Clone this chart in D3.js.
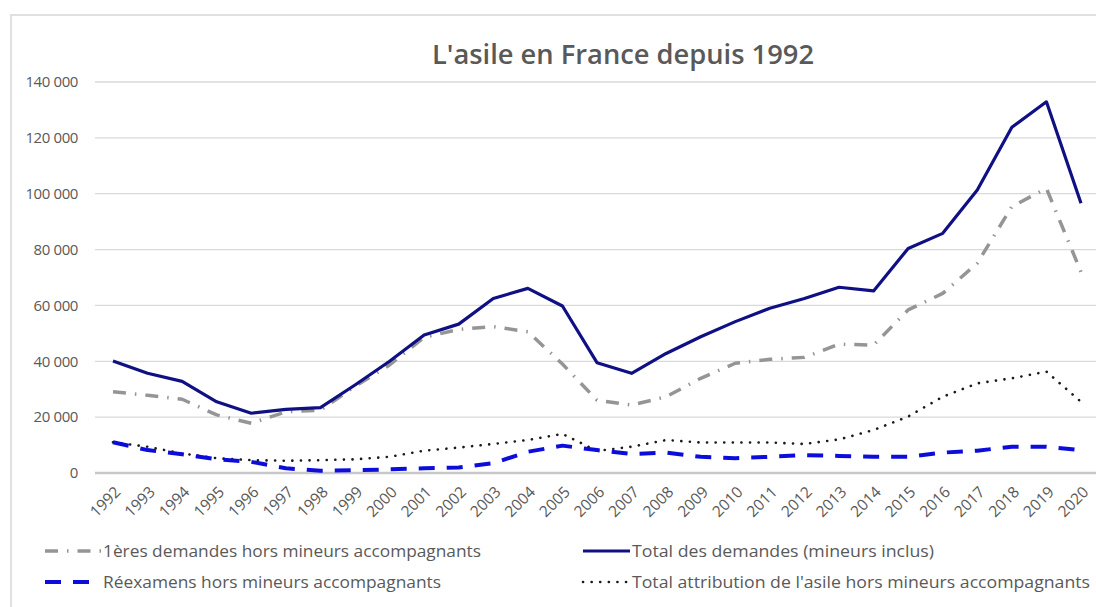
<!DOCTYPE html>
<html>
<head>
<meta charset="utf-8">
<script src="https://cdn.jsdelivr.net/npm/d3@7"></script>
<style>
  body { margin: 0; background: #fff; }
  text { font-family: "Open Sans", sans-serif; fill: #595959; }
</style>
</head>
<body>
<div id="chart"></div>
<script>
// data
var years = d3.range(1992, 2021).map(String);
var premieres = [29100, 27800, 26400, 20800, 17800, 21900, 22500, 31000, 38700, 48600, 51400, 52400, 50600, 39000,
    26100, 24300, 27300, 33900, 39300, 40700, 41400, 46100, 45800, 58400, 64300, 75100, 95400, 101900, 72000];
var totalDemandes = [40100, 35700, 32800, 25500, 21400, 22800, 23400, 31500, 40000, 49400, 53300, 62500, 66100, 59800,
    39500, 35700, 42800, 48800, 54200, 59000, 62500, 66500, 65200, 80400, 85800, 101300, 123800, 132900, 96600];
var reexamens = [11000, 8200, 6700, 4900, 4000, 1700, 800, 1000, 1300, 1700, 2000, 3500, 7600, 9800,
    8200, 6800, 7300, 5800, 5300, 5800, 6400, 6100, 5800, 5800, 7300, 8000, 9400, 9400, 8200];
var attribution = [11000, 9400, 7000, 5300, 4600, 4400, 4600, 4900, 5800, 8000, 9100, 10400, 11800, 14000,
    7900, 9400, 11800, 10900, 10900, 10900, 10400, 12000, 15400, 20200, 27300, 32100, 33900, 36300, 25500];
var yTicks = [0, 20000, 40000, 60000, 80000, 100000, 120000, 140000];

var svgWidth = 1096;
var svgHeight = 607;

var svg = d3.select("#chart").append("svg")
    .attr("width", svgWidth)
    .attr("height", svgHeight);

// chart border (light gray, open on right and bottom)
svg.append("path")
    .attr("d", "M11,607 V15 H1096")
    .attr("fill", "none")
    .attr("stroke", "#e0e0e0")
    .attr("stroke-width", 2);

// title
svg.append("text")
    .attr("x", 623)
    .attr("y", 64)
    .attr("text-anchor", "middle")
    .attr("font-size", "27px")
    .attr("font-weight", "600")
    .attr("textLength", 382)
    .attr("lengthAdjust", "spacingAndGlyphs")
    .text("L'asile en France depuis 1992");

// scales
var x = d3.scalePoint()
    .domain(years)
    .range([113, 1081]);

var y = d3.scaleLinear()
    .domain([0, 140000])
    .range([473, 82]);

// gridlines
svg.append("g")
    .selectAll("line")
    .data(yTicks.slice(1))
    .enter()
    .append("line")
    .attr("x1", 95)
    .attr("x2", 1096)
    .attr("y1", d => y(d))
    .attr("y2", d => y(d))
    .attr("stroke", "#d9d9d9")
    .attr("stroke-width", 1.3);

// y axis labels
var fmt = d => d3.format(",")(d).replace(/,/g, " ");
var yAxis = d3.axisLeft(y)
    .tickValues(yTicks)
    .tickSize(0)
    .tickPadding(0)
    .tickFormat(fmt);

var yG = svg.append("g")
    .attr("transform", "translate(78,0)")
    .call(yAxis);
yG.select(".domain").remove();
yG.selectAll("text")
    .attr("font-family", "'DejaVu Sans', sans-serif")
    .attr("font-size", "15px")
    .attr("letter-spacing", "-0.4px")
    .attr("fill", "#595959");

// x axis line
svg.append("line")
    .attr("x1", 95)
    .attr("x2", 1096)
    .attr("y1", y(0))
    .attr("y2", y(0))
    .attr("stroke", "#c8c8c8")
    .attr("stroke-width", 2.5);

// x axis labels
var xAxis = d3.axisBottom(x).tickSize(0).tickPadding(0);
var xG = svg.append("g")
    .attr("transform", `translate(0, ${y(0)})`)
    .call(xAxis);
xG.select(".domain").remove();
xG.selectAll("text")
    .attr("font-size", "15.5px")
    .attr("fill", "#595959")
    .attr("text-anchor", "end")
    .attr("dy", "0")
    .attr("transform", "translate(8,20) rotate(-45)");

// series
var series = [
    { name: "1ères demandes hors mineurs accompagnants", values: premieres, color: "#959595", width: 3.5, dash: "13,9,1.5,9", cap: "butt", textLen: 378 },
    { name: "Total des demandes (mineurs inclus)", values: totalDemandes, color: "#101085", width: 3.2, dash: null, cap: "butt", textLen: 302 },
    { name: "Réexamens hors mineurs accompagnants", values: reexamens, color: "#0d0ddb", width: 4, dash: "16,12", cap: "butt", textLen: 338 },
    { name: "Total attribution de l'asile hors mineurs accompagnants", values: attribution, color: "#1a1a1a", width: 2.6, dash: "0.1,8.5", cap: "round", textLen: 458 }
];

var line = d3.line()
    .x((d, i) => x(years[i]))
    .y(d => y(d));

// draw order: dotted and dashed under, total on top
var drawOrder = [3, 2, 0, 1];
drawOrder.forEach(function (k) {
    var s = series[k];
    svg.append("path")
        .datum(s.values)
        .attr("d", line)
        .attr("fill", "none")
        .attr("stroke", s.color)
        .attr("stroke-width", s.width)
        .attr("stroke-linejoin", "round")
        .attr("stroke-linecap", s.cap)
        .attr("stroke-dasharray", s.dash);
});

// legend
var legendPos = [
    { x: 45, y: 551 },
    { x: 583, y: 551 },
    { x: 45, y: 582 },
    { x: 583, y: 582 }
];

series.forEach(function (s, i) {
    var p = legendPos[i];
    var lg = svg.append("g").attr("transform", `translate(${p.x}, ${p.y})`);
    lg.append("line")
        .attr("x1", 0)
        .attr("x2", i % 2 === 0 ? 56 : 47)
        .attr("y1", 0)
        .attr("y2", 0)
        .attr("stroke", s.color)
        .attr("stroke-width", s.width)
        .attr("stroke-linecap", s.cap)
        .attr("stroke-dasharray", s.dash);
    lg.append("text")
        .attr("x", i % 2 === 0 ? 58 : 49)
        .attr("y", 6)
        .attr("font-size", "17px")
        .attr("textLength", s.textLen)
        .attr("lengthAdjust", "spacingAndGlyphs")
        .attr("fill", "#595959")
        .text(s.name);
});
</script>
</body>
</html>
